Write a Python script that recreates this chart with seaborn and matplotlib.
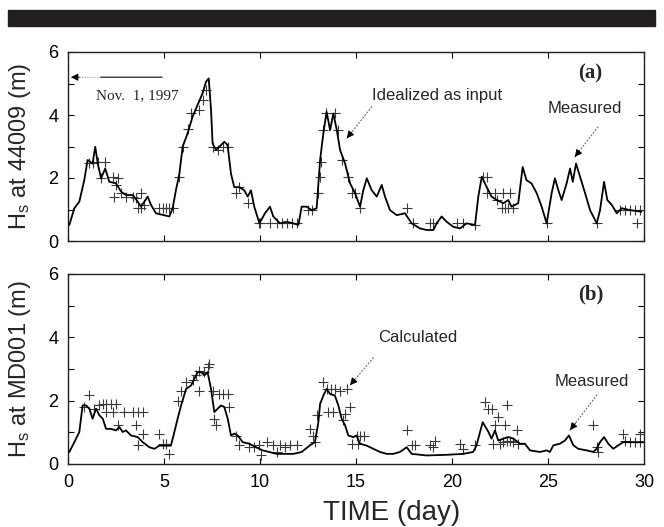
import matplotlib
matplotlib.use("Agg")
import matplotlib.pyplot as plt
import seaborn as sns
import pandas as pd
from matplotlib.patches import Rectangle

# ---------------- data ----------------
line_a_t = [0.07, 0.33, 0.59, 0.85, 1.02, 1.28, 1.42, 1.55, 1.72, 1.94, 2.15, 2.50, 2.76, 3.02,
            3.37, 3.63, 3.80, 3.98, 4.15, 4.32, 4.58, 4.93, 5.28, 5.45, 5.62, 5.80, 5.97, 6.23,
            6.49, 6.75, 7.01, 7.19, 7.33, 7.45, 7.53, 7.71, 7.88, 8.14, 8.31, 8.49, 8.66, 8.92,
            9.18, 9.36, 9.53, 9.70, 9.97, 10.26, 10.52, 10.69, 11.04, 11.39, 11.74, 12.00, 12.17,
            12.43, 12.69, 12.95, 13.13, 13.30, 13.47, 13.65, 13.82, 14.00, 14.17, 14.43, 14.69,
            14.95, 15.21, 15.38, 15.56, 15.82, 16.08, 16.34, 16.51, 16.77, 17.12, 17.55, 17.90,
            18.33, 18.68, 19.03, 19.20, 19.46, 19.72, 20.07, 20.42, 20.76, 21.20, 21.37, 21.55,
            21.81, 22.06, 22.33, 22.67, 22.93, 23.10, 23.45, 23.68, 23.88, 24.14, 24.41, 24.67,
            24.93, 25.19, 25.36, 25.54, 25.71, 25.97, 26.15, 26.29, 26.46, 26.67, 26.93, 27.19,
            27.54, 27.71, 27.92, 28.09, 28.32, 28.58, 28.84, 29.27, 29.87]
line_a_v = [0.51, 1.04, 1.25, 1.94, 2.57, 2.46, 2.99, 2.46, 1.99, 2.30, 1.88, 1.83, 1.57, 1.46,
            1.46, 1.25, 1.09, 1.25, 1.41, 1.15, 0.88, 0.83, 0.78, 1.04, 1.61, 2.13, 2.99, 3.42,
            3.95, 4.32, 4.69, 5.06, 5.16, 4.16, 3.10, 2.89, 2.99, 3.15, 3.05, 2.13, 1.71, 1.71,
            1.61, 1.41, 1.61, 1.09, 0.56, 0.88, 1.09, 0.78, 0.56, 0.61, 0.56, 0.51, 1.09,
            1.09, 0.98, 1.04, 2.57, 3.42, 4.10, 3.52, 4.05, 3.52, 2.89, 2.46, 1.83,
            1.52, 1.09, 1.61, 1.99, 1.61, 1.41, 1.78, 1.41, 0.98, 0.82, 0.88, 0.56,
            0.40, 0.35, 0.35, 0.56, 0.78, 0.61, 0.45, 0.40, 0.56, 0.51, 1.41, 2.04,
            1.71, 1.41, 1.30, 1.20, 1.30, 1.09, 1.20, 2.35, 1.93, 1.83, 1.52, 1.09,
            0.56, 1.52, 1.99, 1.61, 1.30, 1.83, 2.30, 1.88, 2.46, 2.04, 1.52, 0.98,
            0.56, 0.98, 1.88, 1.30, 1.15, 0.88, 1.04, 0.98, 0.93]

meas_a_t = [1.11, 1.28, 1.54, 1.94, 1.72, 2.33, 2.50, 2.59, 2.41, 2.76, 3.02, 3.37, 3.54, 3.80,
            3.63, 3.80, 3.98, 4.76, 4.93, 5.10, 5.28, 5.45, 5.80, 5.97, 6.23, 6.41, 6.84, 7.01,
            7.19, 7.53, 7.80, 8.06, 8.31, 8.75, 8.92, 9.36, 9.97,
            10.00, 10.52, 10.87, 11.13, 11.39, 11.65, 11.91, 12.52, 12.69, 13.04, 13.13, 13.18,
            13.30, 13.42, 13.91, 14.08, 14.25, 14.60, 14.77, 14.95, 15.21, 17.64, 17.99, 18.85,
            19.03, 20.24,
            20.59, 21.20, 21.63, 21.81, 21.81, 22.24, 22.67, 23.02, 22.33, 22.59, 22.76, 22.93,
            23.20, 24.93, 27.54, 28.75, 29.01, 29.27, 29.53, 29.79, 29.62]
meas_a_v = [2.47, 2.47, 2.52, 2.52, 1.99, 2.04, 1.78, 1.99, 1.41, 1.52, 1.41, 1.41, 1.35, 1.52,
            1.04, 1.04, 1.15, 1.04, 1.04, 1.04, 1.04, 1.04, 2.04, 2.99, 3.57, 4.05, 4.16, 4.47,
            4.79, 2.99, 2.89, 2.99, 2.99, 1.52, 1.73, 1.20, 0.56,
            0.56, 0.56, 0.56, 0.56, 0.56, 0.56, 0.56, 0.98, 0.98, 1.52, 2.04, 2.52,
            3.52, 4.05, 4.05, 3.52, 2.57, 2.04, 1.52, 1.52, 1.04, 1.04, 0.56, 0.56,
            0.56, 0.56,
            0.56, 0.51, 2.04, 2.04, 1.52, 1.52, 1.52, 1.52, 1.30, 1.04, 1.04, 1.04,
            1.04, 0.56, 0.56, 0.98, 0.98, 0.98, 0.98, 0.98, 0.56]

line_b_t = [0.07, 0.33, 0.59, 0.76, 0.94, 1.11, 1.28, 1.46, 1.63, 1.81, 1.98, 2.24, 2.50, 2.67,
            2.85, 3.02, 3.28, 3.63, 3.89, 4.24, 4.50, 4.76, 5.10, 5.36, 5.54, 5.71, 5.89, 6.15,
            6.41, 6.58, 6.75, 6.93, 7.10, 7.27, 7.45, 7.62, 7.80, 7.97, 8.14, 8.32, 8.49, 8.66,
            8.84, 9.10, 9.44, 9.79, 10.14, 10.87, 11.74, 12.17, 12.60, 12.86, 13.04, 13.13, 13.30,
            13.47, 13.65, 13.90, 14.08, 14.25, 14.43, 14.60, 14.86, 15.03, 15.21, 15.56, 15.90,
            16.25, 16.60, 16.94, 17.29, 17.64, 17.90, 18.68, 19.72, 20.59, 21.10, 21.28, 21.46,
            21.60, 21.90, 22.06, 22.24, 22.41, 22.67, 22.93, 23.20, 23.54, 23.80, 24.06, 24.58,
            24.93, 25.10, 25.28, 25.62, 25.88, 26.09, 26.32, 26.58, 27.01, 27.36, 27.53, 27.71,
            27.92, 28.14, 28.40, 28.66, 28.92, 29.44, 29.96]
line_b_v = [0.38, 0.69, 1.01, 1.85, 1.85, 1.75, 1.43, 1.75, 1.54, 1.43, 1.11, 1.11, 1.06, 1.17,
            1.01, 1.06, 0.90, 0.85, 0.69, 0.53, 0.48, 0.58, 0.58, 0.58, 1.01, 1.43, 1.85, 2.37,
            2.48, 2.69, 2.90, 2.90, 2.80, 2.90, 2.37, 1.64, 1.75, 1.85, 1.80, 1.43, 0.90, 0.96,
            0.90, 0.69, 0.64, 0.53, 0.43, 0.32, 0.32, 0.38, 0.59, 0.69, 1.32, 1.90, 2.16,
            2.37, 2.21, 2.16, 1.85, 1.43, 1.22, 0.90, 0.85, 0.90, 0.64, 0.58, 0.48,
            0.38, 0.32, 0.32, 0.38, 0.53, 0.32, 0.27, 0.29, 0.32, 0.38, 0.59, 1.01,
            1.32, 1.01, 0.80, 1.06, 0.74, 0.80, 0.85, 0.80, 0.64, 0.64, 0.43, 0.38,
            0.43, 0.38, 0.59, 0.64, 0.74, 0.90, 0.59, 0.48, 0.43, 0.38, 0.48, 0.69,
            0.85, 0.64, 0.48, 0.59, 0.69, 0.69, 0.69]

meas_b_t = [1.11, 0.85, 1.37, 1.63, 1.81, 1.98, 2.24, 2.50, 1.98, 2.33, 2.93, 3.37, 3.63, 3.89,
            2.59, 3.54, 3.89, 3.63, 4.76, 4.93, 5.10, 5.28, 5.71, 5.89, 6.15, 6.49, 6.67, 6.84,
            7.10, 7.27, 7.36, 6.84, 7.53, 7.88, 8.09, 8.32, 7.62, 7.71, 8.40, 8.75, 8.92, 9.44,
            9.70, 9.97, 10.05,
            10.35, 10.69, 11.04, 11.30, 11.56, 11.91, 10.87, 12.60, 12.78, 12.86, 12.95, 13.30,
            13.47, 13.68, 13.90, 14.17, 13.56, 13.82, 14.51, 14.69, 14.43, 14.34, 15.03, 15.21,
            15.42, 14.77, 15.12, 17.64, 17.90, 18.07, 18.85, 18.99, 19.11,
            20.42, 20.59, 21.20, 21.72, 21.90, 22.06, 22.41, 22.85, 22.24, 22.76, 23.37, 22.15,
            22.50, 22.67, 22.85, 23.02, 23.20, 23.45, 27.36, 27.53, 27.62, 28.92, 29.00, 29.27,
            29.53, 29.79, 29.79, 30.00]
meas_b_v = [2.17, 1.80, 1.75, 1.85, 1.90, 1.90, 1.90, 1.90, 1.64, 1.64, 1.64, 1.64, 1.64, 1.64,
            1.22, 1.22, 0.96, 0.59, 0.96, 0.64, 0.64, 0.32, 2.00, 2.32, 2.59, 2.64, 2.80, 2.95,
            2.90, 3.06, 3.16, 2.32, 2.32, 2.22, 2.22, 2.22, 1.43, 1.22, 1.80, 0.90, 0.59, 0.53,
            0.53, 0.59, 0.27,
            0.69, 0.59, 0.59, 0.53, 0.59, 0.59, 0.38, 1.11, 0.90, 0.69, 1.54, 2.59,
            2.37, 2.37, 2.37, 2.32, 1.64, 1.64, 2.37, 1.80, 1.59, 1.38, 0.90, 0.90,
            0.90, 0.64, 0.64, 1.06, 0.59, 0.59, 0.59, 0.53, 0.74,
            0.64, 0.48, 0.59, 1.96, 1.75, 1.75, 1.48, 1.85, 1.22, 1.22, 1.06, 0.64,
            0.64, 0.69, 0.74, 0.74, 0.69, 0.64, 1.22, 0.53, 0.38, 0.96, 0.74, 0.69,
            0.69, 0.69, 0.96, 0.69]

x_ticks = [0, 5, 10, 15, 20, 25, 30]
y_ticks = [0, 1, 2, 3, 4, 5, 6]
y_ticklabels = ["0", "", "2", "", "4", "", "6"]

# ---------------- style ----------------
sns.set_style("ticks")
plt.rcParams["font.family"] = ["Liberation Sans", "DejaVu Sans"]
plt.rcParams["mathtext.fontset"] = "custom"
plt.rcParams["mathtext.rm"] = "Liberation Sans"
plt.rcParams["mathtext.default"] = "regular"

fig = plt.figure(figsize=(6.64, 5.27), dpi=100)
fig.patch.set_facecolor("white")
fig.patches.append(Rectangle((8 / 664, 1 - 26 / 527), 647 / 664, 16 / 527,
                             transform=fig.transFigure, color="#231f20", zorder=0))

ax_a = fig.add_axes([68 / 664, 1 - 241 / 527, 576 / 664, 189 / 527])
ax_b = fig.add_axes([68 / 664, 1 - 464 / 527, 576 / 664, 190 / 527])

df_la = pd.DataFrame({"t": line_a_t, "v": line_a_v})
df_ma = pd.DataFrame({"t": meas_a_t, "v": meas_a_v})
df_lb = pd.DataFrame({"t": line_b_t, "v": line_b_v})
df_mb = pd.DataFrame({"t": meas_b_t, "v": meas_b_v})

for ax, dl, dm in [(ax_a, df_la, df_ma), (ax_b, df_lb, df_mb)]:
    sns.scatterplot(data=dm, x="t", y="v", ax=ax, marker="+", s=60, color="#3a3a3a",
                    linewidth=0.8, zorder=2)
    sns.lineplot(data=dl, x="t", y="v", ax=ax, color="black", linewidth=1.3,
                 estimator=None, sort=False, zorder=3)
    ax.set_xlim(0, 30)
    ax.set_ylim(0, 6)
    ax.set_xticks(x_ticks)
    ax.set_yticks(y_ticks)
    ax.set_yticklabels(y_ticklabels)
    ax.tick_params(direction="in", length=4, width=0.8, top=True, right=True,
                   labelsize=13, pad=7, colors="black")
    for sp in ax.spines.values():
        sp.set_visible(True)
        sp.set_linewidth(1.0)
        sp.set_color("#222222")
    ax.set_xlabel("")

ax_a.set_xticklabels([])
ax_a.set_ylabel("H$_s$ at 44009 (m)", fontsize=17)
ax_b.set_ylabel("H$_s$ at MD001 (m)", fontsize=17)
ax_a.yaxis.set_label_coords(-0.06, 0.5)
ax_b.yaxis.set_label_coords(-0.06, 0.5)
ax_b.set_xlabel("TIME (day)", fontsize=20)
ax_b.xaxis.set_label_coords(0.562, -0.19)

serif = ["Liberation Serif", "DejaVu Serif"]
ax_a.text(3.6, 4.6, "Nov.  1, 1997", family=serif, fontsize=11, ha="center", va="center")
ax_a.annotate("", xy=(1.7, 5.2), xytext=(4.9, 5.2),
              arrowprops=dict(arrowstyle="-", lw=0.9, color="#222222", shrinkA=0, shrinkB=0))
ax_a.annotate("", xy=(0.3, 5.2), xytext=(1.7, 5.2),
              arrowprops=dict(arrowstyle="-", lw=0.6, ls=(0, (1, 2)), color="#888888",
                              shrinkA=0, shrinkB=0))
ax_a.annotate("", xy=(0.15, 5.2), xytext=(0.6, 5.2),
              arrowprops=dict(arrowstyle="-|>", lw=0.6, color="black",
                              mutation_scale=11, shrinkA=0, shrinkB=0))
ax_a.text(27.2, 5.33, "(a)", family=serif, fontsize=15, fontweight="bold",
          ha="center", va="center")
ax_b.text(27.25, 5.34, "(b)", family=serif, fontsize=15, fontweight="bold",
          ha="center", va="center")


def dotted_arrow(ax, start, end):
    ax.annotate("", xy=end, xytext=start,
                arrowprops=dict(arrowstyle="-", lw=0.8, ls=(0, (1, 2)), color="#666666",
                                shrinkA=0, shrinkB=0))
    dx = (end[0] - start[0]) * 0.2
    dy = (end[1] - start[1]) * 0.2
    ax.annotate("", xy=end, xytext=(end[0] - dx, end[1] - dy),
                arrowprops=dict(arrowstyle="-|>", lw=0.6, color="black",
                                mutation_scale=11, shrinkA=0, shrinkB=0))


ax_a.text(19.2, 4.63, "Idealized as input", fontsize=12, ha="center", va="center")
dotted_arrow(ax_a, (15.82, 4.26), (14.52, 3.26))
ax_a.text(26.9, 4.22, "Measured", fontsize=12, ha="center", va="center")
dotted_arrow(ax_a, (27.6, 3.62), (26.4, 2.67))

ax_b.text(18.2, 3.98, "Calculated", fontsize=12, ha="center", va="center")
dotted_arrow(ax_b, (15.9, 3.35), (14.69, 2.49))
ax_b.text(27.3, 2.59, "Measured", fontsize=12, ha="center", va="center")
dotted_arrow(ax_b, (27.55, 2.18), (26.15, 1.07))

fig.savefig("out.png", dpi=100)
